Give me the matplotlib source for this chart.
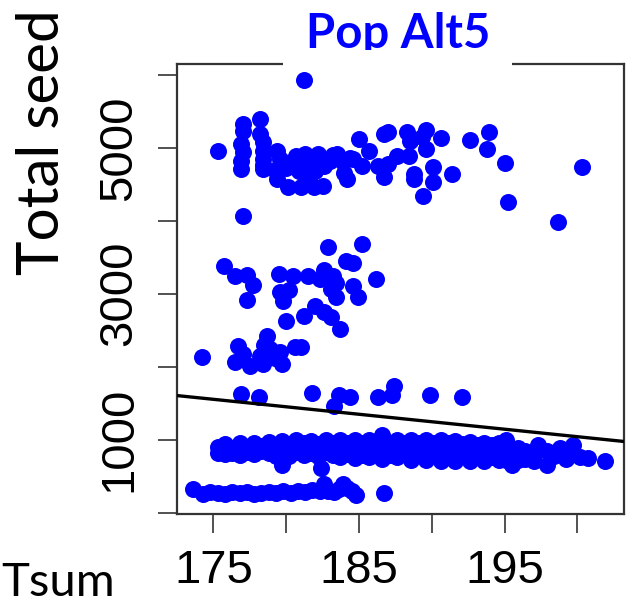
import numpy as np
import matplotlib
matplotlib.use("Agg")
import matplotlib.pyplot as plt
from matplotlib.patches import Rectangle

plt.rcParams["font.family"] = ["Liberation Sans", "DejaVu Sans"]

# Upper cluster (about 4000-6000 seeds)
top_x = [175.3, 177.0, 177.0, 178.2, 176.9, 177.0, 176.9, 176.9, 178.2, 178.4,
         178.4, 178.4, 178.4, 178.4, 179.4, 179.6, 179.8, 179.4, 180.1, 181.0,
         181.9, 182.5, 182.0, 180.3, 180.7, 181.3, 181.8, 182.2, 182.8, 183.2,
         183.5, 183.9, 184.0, 184.2, 184.6, 185.0, 185.7, 185.2, 186.7, 187.0,
         186.7, 186.3, 187.0, 187.6, 188.3, 188.5, 189.6, 189.3, 189.6, 188.4,
         190.6, 188.8, 188.8, 190.1, 190.1, 191.4, 189.4, 192.6, 193.9, 193.8,
         181.2, 195.0, 195.2, 200.3, 198.7, 177.0, 180.0, 180.6, 181.5, 182.6,
         183.0, 184.4, 179.2, 180.9, 181.6]
top_y = [4959, 5329, 5233, 5397, 5055, 4945, 4822, 4712, 5192, 5082,
         4960, 4850, 4760, 4712, 4959, 4849, 4780, 4575, 4466, 4466,
         4466, 4479, 4685, 4808, 4890, 4918, 4880, 4918, 4830, 4900,
         4918, 4800, 4650, 4575, 4849, 5123, 4959, 4753, 5192, 5219,
         4603, 4753, 4780, 4890, 5219, 5096, 5247, 5150, 4986, 4890,
         5137, 4644, 4575, 4740, 4534, 4644, 4342, 5110, 5219, 4986,
         5932, 4795, 4260, 4740, 3986, 4068, 4720, 4780, 4760, 4750,
         4820, 4860, 4700, 4680, 4560]

# Middle cluster (about 2000-3700 seeds)
mid_x = [174.2, 176.7, 176.5, 177.5, 178.2, 178.7, 178.5, 178.4, 179.7, 179.6,
         180.6, 181.0, 177.0, 178.9, 179.2,
         175.7, 176.5, 177.3, 177.7, 177.3, 179.5, 180.5, 181.5, 179.6, 180.2,
         179.8, 180.0, 181.2, 182.6, 182.9, 183.2, 183.1, 183.4, 182.0, 182.6,
         183.1, 183.7, 184.1, 184.6, 185.2, 184.6, 184.9, 186.2, 182.3, 183.4]
mid_y = [2137, 2288, 2068, 2014, 2150, 2425, 2300, 2041, 2041, 2205,
         2274, 2274, 2180, 2240, 2120,
         3384, 3247, 3260, 3123, 2918, 3274, 3247, 3247, 3027, 3055,
         2904, 2630, 2699, 3329, 3644, 3247, 3068, 2959, 2836, 2753,
         2685, 2521, 3452, 3425, 3685, 3110, 2959, 3205, 3200, 3150]

# Points around 1500-1750 seeds
low_x = [176.9, 178.1, 181.8, 183.6, 183.3, 184.4, 186.3, 187.4, 187.3, 189.9, 192.1]
low_y = [1630, 1590, 1644, 1616, 1466, 1589, 1589, 1740, 1616, 1616, 1589]

# Dense band (about 600-1100 seeds)
band_x = [175.3, 175.3, 175.8, 175.8, 175.8, 176.3, 176.3, 176.8, 176.8, 176.8,
          177.3, 177.3, 177.8, 177.8, 177.8, 178.3, 178.3, 178.8, 178.8, 178.8,
          179.3, 179.3, 179.3, 179.7, 179.7, 179.7, 179.7, 180.2, 180.2, 180.2,
          180.7, 180.7, 180.7, 181.2, 181.2, 181.2, 181.7, 181.7, 181.7, 182.2,
          182.2, 182.2, 182.4, 182.7, 182.7, 182.7, 183.2, 183.2, 183.2, 183.7,
          183.7, 183.7, 183.7, 184.2, 184.2, 184.2, 184.7, 184.7, 184.7, 184.7,
          185.2, 185.2, 185.2, 185.7, 185.7, 185.7, 185.7, 186.2, 186.2, 186.2,
          186.6, 186.6, 186.6, 186.6, 186.6, 187.1, 187.1, 187.1, 187.6, 187.6,
          187.6, 187.6, 188.1, 188.1, 188.1, 188.6, 188.6, 188.6, 188.6, 189.1,
          189.1, 189.1, 189.6, 189.6, 189.6, 189.6, 190.1, 190.1, 190.1, 190.6,
          190.6, 190.6, 190.6, 191.1, 191.1, 191.1, 191.6, 191.6, 191.6, 191.6,
          192.1, 192.1, 192.1, 192.6, 192.6, 192.6, 192.6, 193.1, 193.1, 193.1,
          193.6, 193.6, 193.6, 193.6, 194.1, 194.1, 194.1, 194.6, 194.6, 194.6,
          195.1, 195.1, 195.1, 195.1, 195.5, 195.9, 195.9, 195.9, 196.4, 196.4,
          197.0, 197.0, 197.3, 197.9, 197.9, 198.4, 198.8, 199.2, 199.7, 199.7,
          200.2, 200.7, 201.9]
band_y = [900, 820, 940, 860, 800, 880, 820, 950, 870, 790,
          900, 830, 960, 880, 800, 910, 840, 970, 890, 810,
          930, 850, 780, 980, 900, 820, 650, 940, 860, 780,
          990, 910, 830, 950, 870, 790, 980, 900, 820, 940,
          860, 780, 610, 990, 910, 830, 950, 870, 790, 1000,
          920, 840, 760, 960, 880, 800, 990, 910, 830, 750,
          950, 870, 790, 1000, 920, 840, 760, 960, 880, 800,
          1060, 980, 900, 820, 740, 950, 870, 790, 1000, 920,
          840, 760, 960, 880, 800, 1000, 920, 840, 720, 960,
          880, 800, 990, 910, 830, 720, 950, 870, 790, 990,
          910, 830, 710, 950, 870, 790, 980, 900, 820, 710,
          940, 860, 780, 970, 890, 810, 710, 930, 850, 770,
          960, 880, 800, 710, 920, 840, 760, 950, 870, 720,
          1000, 900, 820, 720, 650, 880, 800, 720, 850, 740,
          800, 700, 920, 850, 650, 780, 880, 740, 920, 820,
          760, 750, 700]

# Bottom band (about 200-400 seeds)
base_x = [173.6, 174.3, 174.8, 175.3, 175.8, 176.3, 176.8, 177.3, 177.8, 178.3,
          178.8, 179.3, 179.8, 180.3, 180.8, 181.3, 181.8, 182.3, 182.6, 182.9,
          183.3, 183.6, 183.9, 184.2, 184.5, 184.8, 186.7]
base_y = [329, 260, 280, 270, 260, 275, 265, 280, 260, 270,
          275, 265, 290, 270, 300, 285, 310, 290, 397, 300,
          280, 320, 397, 330, 290, 247, 274]

# Fitted regression line
fit_intercept = 5140
fit_slope = -20.5

x_ticks = [175, 180, 185, 190, 195, 200]
x_labels = ["175", "", "185", "", "195", ""]
y_ticks = [0, 1000, 2000, 3000, 4000, 5000, 6000]
y_labels = ["", "1000", "", "3000", "", "5000", ""]

tsum = np.concatenate([top_x, mid_x, low_x, band_x, base_x])
seed = np.concatenate([top_y, mid_y, low_y, band_y, base_y])

W, H = 635, 606
fig = plt.figure(figsize=(W / 100, H / 100), dpi=100)
ax = fig.add_axes([177 / W, 1 - 514 / H, (624 - 177) / W, (514 - 64) / H])

ax.scatter(tsum, seed, s=150, color="#0000ff", linewidths=0, zorder=2)

xlim = (172.5, 203.2)
xs = np.array(xlim)
ax.plot(xs, fit_intercept + fit_slope * xs, color="black", lw=2.4, zorder=3)

ax.set_xlim(*xlim)
ax.set_ylim(-20, 6150)

frame_col = "#333333"
for sp in ax.spines.values():
    sp.set_color(frame_col)
    sp.set_linewidth(1.6)

ax.set_xticks(x_ticks)
ax.set_xticklabels(x_labels, family=["Liberation Sans", "DejaVu Sans"])
ax.set_yticks(y_ticks)
ax.set_yticklabels(y_labels, rotation=90, va="center",
                   family=["Liberation Sans", "DejaVu Sans"])
ax.tick_params(direction="out", length=13.5, width=1.2, color=frame_col,
               labelsize=34, labelcolor="black")
ax.tick_params(axis="x", pad=12)
ax.tick_params(axis="y", pad=12)

# white gap in the top frame behind the title
fig.patches.append(Rectangle((283 / W, 1 - 72 / H), (512 - 283) / W, 22 / H,
                             transform=fig.transFigure, facecolor="white",
                             edgecolor="none", zorder=5))

fig.text(398 / W, 1 - 48 / H, "Pop Alt5", color="#0000ff", fontsize=34,
         fontweight="bold", family=["Lato", "DejaVu Sans"],
         ha="center", va="baseline")
fig.text(16 / W, 1 - 142 / H, "Total seed", rotation=90, fontsize=42,
         family=["Lato", "DejaVu Sans"], ha="left", va="center")
fig.text(1 / W, 2 / H, "Tsum", fontsize=34,
         family=["Lato", "DejaVu Sans"], ha="left", va="bottom")

fig.savefig("out.png", dpi=100)
